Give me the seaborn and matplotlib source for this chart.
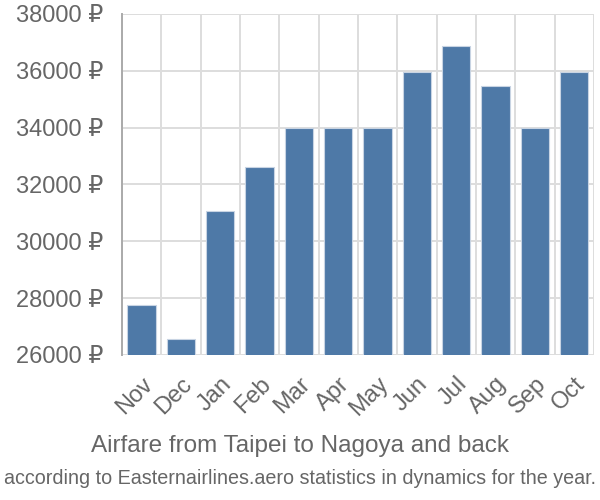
import matplotlib
matplotlib.use("Agg")
import matplotlib.pyplot as plt
import seaborn as sns
import pandas as pd

months = ["Nov", "Dec", "Jan", "Feb", "Mar", "Apr", "May", "Jun", "Jul", "Aug", "Sep", "Oct"]
prices = [27750, 26560, 31050, 32600, 34000, 34000, 34000, 35950, 36870, 35480, 34000, 35950]
yticks = [26000, 28000, 30000, 32000, 34000, 36000, 38000]

sns.set_style("white")
plt.rcParams["font.family"] = ["Liberation Sans", "DejaVu Sans"]

df = pd.DataFrame({"month": months, "price": prices})

fig = plt.figure(figsize=(6, 5), dpi=100)
ax = fig.add_axes([0.203, 0.29, 0.787, 0.682])

sns.barplot(data=df, x="month", y="price", color="#4e79a7", saturation=1,
            width=0.72, edgecolor="#c8d4e3", linewidth=0.8, ax=ax, zorder=3)

ax.set_ylim(26000, 38000)
ax.set_xlim(-0.5, len(months) - 0.5)
ax.set_yticks(yticks)
ax.set_yticklabels([f"{v} ₽" for v in yticks])

# grid: horizontal at ticks, vertical at category boundaries
for y in yticks:
    ax.axhline(y, color="#dddddd", lw=1.4, zorder=1)
for i in range(len(months) + 1):
    ax.axvline(i - 0.5, color="#dddddd", lw=1.4, zorder=1)

ax.set_xticks(range(len(months)))
ax.set_xticklabels(months, rotation=45, ha="right", rotation_mode="anchor")
ax.set_xticks([i - 0.5 for i in range(len(months) + 1)], minor=True)
ax.tick_params(axis="x", which="major", length=0, labelsize=17,
               labelcolor="#666666", pad=13)
ax.tick_params(axis="x", which="minor", length=14, color="#dddddd", width=1.4)
ax.tick_params(axis="y", length=7, color="#dddddd", width=1.4, labelsize=17,
               labelcolor="#666666", pad=6)

for s in ["top", "right", "bottom"]:
    ax.spines[s].set_visible(False)
ax.spines["left"].set_color("#aaaaaa")
ax.spines["left"].set_linewidth(1.4)
ax.set_xlabel("")
ax.set_ylabel("")

fig.text(0.5, 0.108, "Airfare from Taipei to Nagoya and back", ha="center", va="center",
         fontsize=17.5, color="#666666")
fig.text(0.5, 0.044, "according to Easternairlines.aero statistics in dynamics for the year.",
         ha="center", va="center", fontsize=14.2, color="#666666")

fig.savefig("out.png", dpi=100)
